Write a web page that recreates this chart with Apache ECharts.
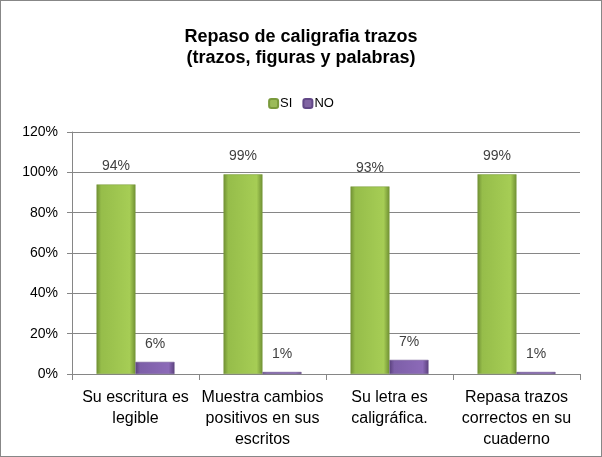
<!DOCTYPE html>
<html>
<head>
<meta charset="utf-8">
<script src="https://cdn.jsdelivr.net/npm/echarts@6/dist/echarts.min.js"></script>
<style>
  html, body { margin: 0; padding: 0; background: #fff; }
  #chart { width: 600px; height: 455px; border: 1px solid #878787; }
</style>
</head>
<body>
<div id="chart"></div>
<script>
// datos del gráfico
var categorias = ['Su escritura es\nlegible', 'Muestra cambios\npositivos en sus\nescritos', 'Su letra es\ncaligráfica.', 'Repasa trazos\ncorrectos en su\ncuaderno'];
var valoresSi = [94, 99, 93, 99];
var valoresNo = [6, 1, 7, 1];

var myChart = echarts.init(document.getElementById('chart'));

// gradiente para dar efecto de bisel
function bisel(claro, medio, oscuro) {
    return new echarts.graphic.LinearGradient(0, 0, 1, 0, [
        { offset: 0, color: oscuro },
        { offset: 0.12, color: medio },
        { offset: 0.85, color: claro },
        { offset: 1, color: oscuro }
    ]);
}

var etiqueta = {
    show: true,
    position: 'top',
    distance: 11,
    formatter: '{c}%',
    color: '#404040',
    fontFamily: 'Liberation Sans',
    fontSize: 14
};

var option = {
    backgroundColor: '#fff',
    textStyle: { fontFamily: 'Liberation Sans' },
    title: {
        text: 'Repaso de caligrafia trazos\n(trazos, figuras y palabras)',
        left: 'center',
        top: 21,
        textStyle: {
            fontSize: 18,
            fontWeight: 'bold',
            color: '#000',
            lineHeight: 21,
            fontFamily: 'Liberation Sans'
        }
    },
    legend: {
        top: 91,
        left: 'center',
        itemWidth: 9,
        itemHeight: 9,
        itemGap: 10,
        textStyle: { fontSize: 13, color: '#000', padding: [0, 0, 0, -3] },
        data: [
            { name: 'SI', itemStyle: { color: '#9bbb59' } },
            { name: 'NO', itemStyle: { color: '#8064a2' } }
        ]
    },
    grid: { left: 71, right: 21, top: 131, bottom: 82, containLabel: false },
    xAxis: {
        type: 'category',
        data: categorias,
        axisLine: { lineStyle: { color: '#868686' } },
        axisTick: { show: true, length: 6, alignWithLabel: false, lineStyle: { color: '#868686' } },
        axisLabel: {
            interval: 0,
            color: '#000',
            fontSize: 16,
            lineHeight: 21,
            margin: 13,
            fontFamily: 'Liberation Sans'
        }
    },
    yAxis: {
        type: 'value',
        min: 0,
        max: 120,
        interval: 20,
        axisLine: { show: true, lineStyle: { color: '#868686' } },
        axisTick: { show: true, length: 5, lineStyle: { color: '#868686' } },
        splitLine: { lineStyle: { color: '#868686' } },
        axisLabel: {
            formatter: '{value}%',
            color: '#000',
            fontSize: 14,
            margin: 14,
            fontFamily: 'Liberation Sans'
        }
    },
    series: [
        {
            name: 'SI',
            type: 'bar',
            data: valoresSi,
            barWidth: 39,
            barGap: '0%',
            itemStyle: {
                color: bisel('#a6cd55', '#96bd4a', '#6f8f33'),
                borderColor: '#7a9a3c',
                borderWidth: 0.5
            },
            label: etiqueta
        },
        {
            name: 'NO',
            type: 'bar',
            data: valoresNo,
            barWidth: 39,
            itemStyle: {
                color: bisel('#8c6ab8', '#7d5fa8', '#5b417d'),
                borderColor: '#624887',
                borderWidth: 0.5
            },
            label: etiqueta
        }
    ]
};

myChart.setOption(option);
</script>
</body>
</html>
